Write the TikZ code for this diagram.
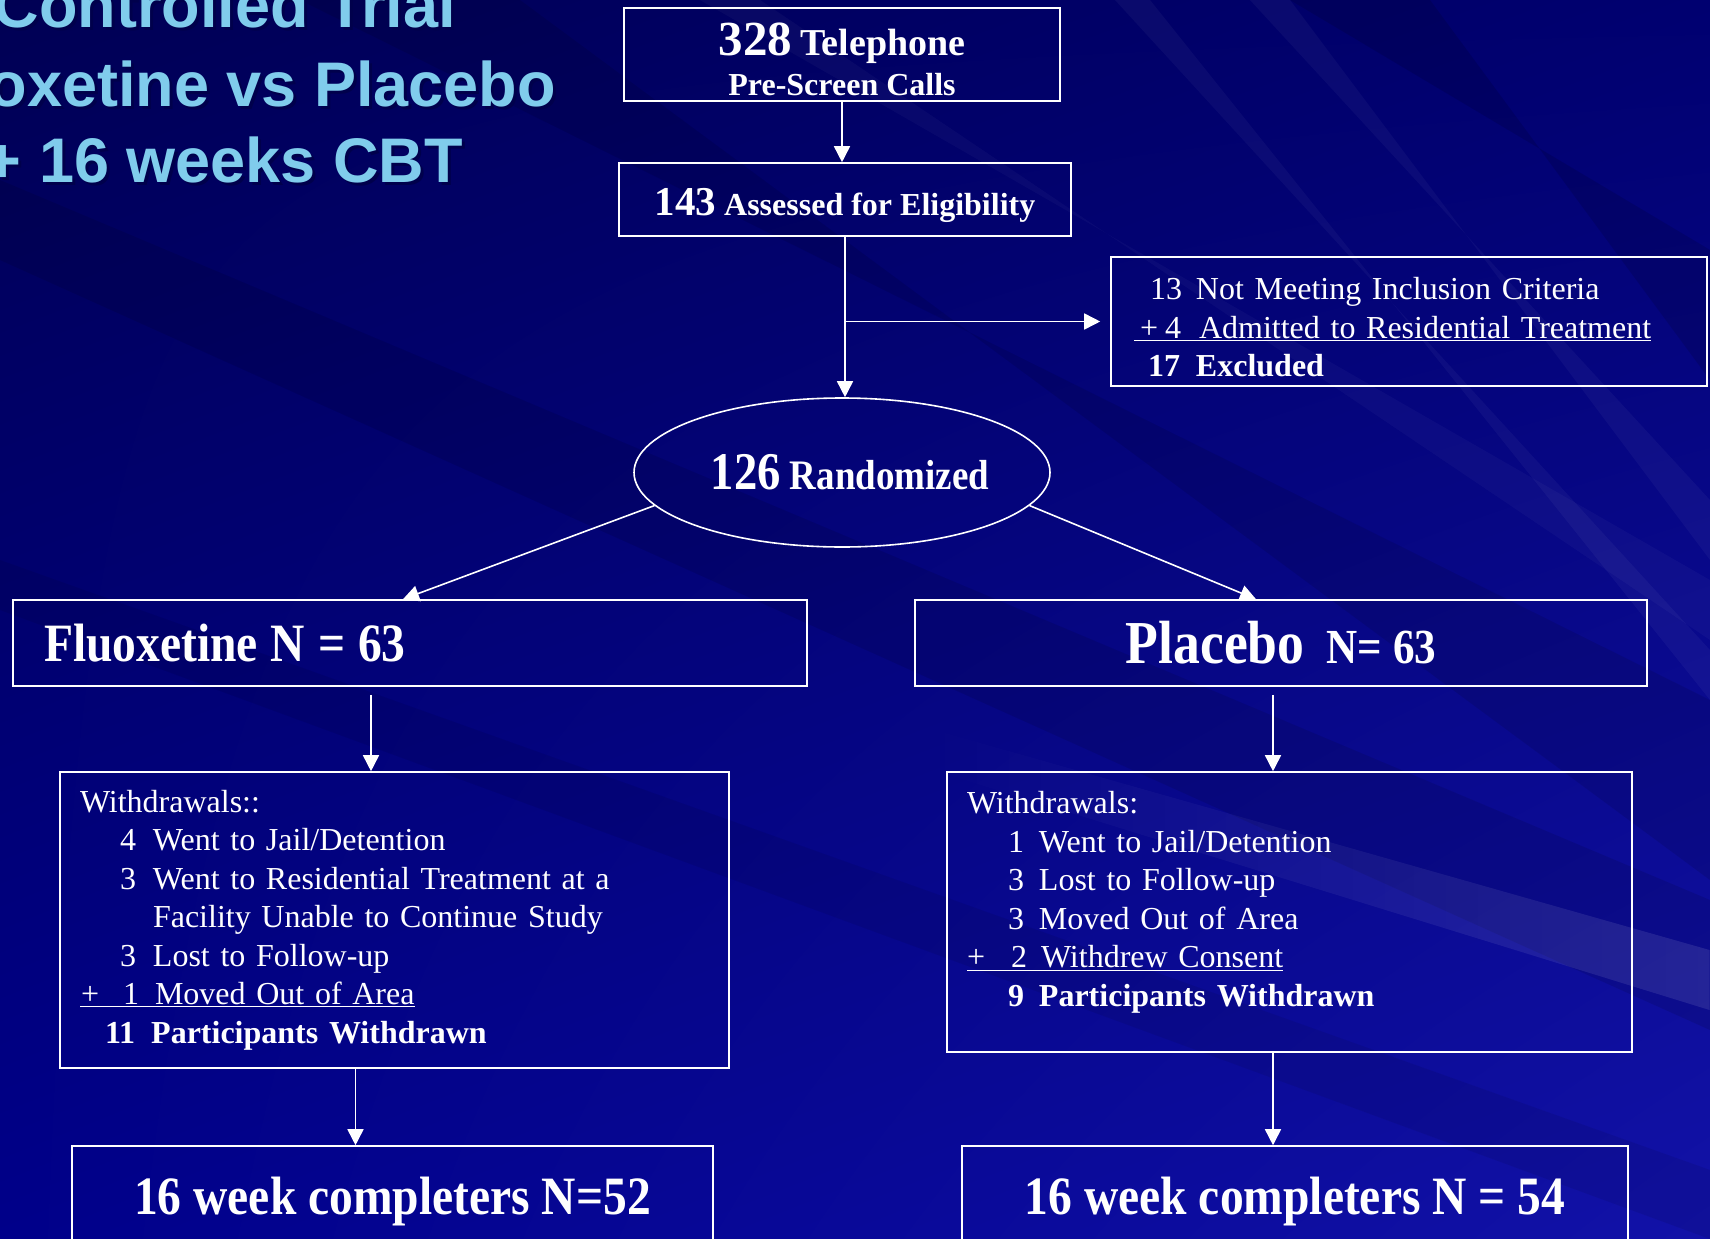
\documentclass[tikz,border=0pt]{standalone}
\usepackage{fontspec}
\setmainfont{Liberation Serif}
\newfontfamily\titlefont{Liberation Sans}
\newfontfamily\headfont[FakeStretch=0.88]{Liberation Serif}
\usetikzlibrary{arrows.meta,shapes.geometric,shadings,fadings}

\definecolor{bgtl}{RGB}{0,0,84}
\definecolor{bgtr}{RGB}{0,0,112}
\definecolor{bgbl}{RGB}{0,0,138}
\definecolor{bgbr}{RGB}{18,18,168}
\definecolor{titleblue}{RGB}{128,204,236}

\begin{document}
\begin{tikzpicture}[x=1pt,y=-1pt,
    >={Triangle[width=16pt,length=16pt]},
    box/.style={draw=white, line width=1.6pt, text=white, inner sep=0pt},
    conn/.style={draw=white, line width=1.6pt},
    title/.style={font=\titlefont\bfseries\fontsize{63}{63}\selectfont, inner sep=0pt},
    list/.style={font=\fontsize{32}{38.5}\selectfont, align=left},
    head/.style={font=\headfont\bfseries\fontsize{54}{54}\selectfont}]
        \useasboundingbox (0,0) rectangle (1710,1239);
        \clip (0,0) rectangle (1710,1239);
        % background and streaks
        \shade[upper left=bgtl, upper right=bgtr, lower left=bgbl, lower right=bgbr] (0,0) rectangle (1710,1239);
        \fill[black, opacity=.10] (0,180) -- (0,260) -- (1710,1030) -- (1710,900) -- cycle;
        \fill[black, opacity=.08] (0,560) -- (0,610) -- (1710,1239) -- (1710,1170) -- cycle;
        \fill[black, opacity=.10] (300,0) -- (520,0) -- (1710,880) -- (1710,700) -- cycle;
        \fill[black, opacity=.12] (1290,0) -- (1430,0) -- (1710,380) -- (1710,250) -- cycle;
        \fill[white, opacity=.04] (1115,0) -- (1150,0) -- (1710,700) -- (1710,650) -- cycle;
        \fill[white, opacity=.04] (1250,0) -- (1290,0) -- (1710,560) -- (1710,500) -- cycle;
        \fill[white, opacity=.10, path fading=west] (900,720) -- (1710,950) -- (1710,1010) -- (900,760) -- cycle;
        \fill[white, opacity=.03] (700,0) -- (760,0) -- (1710,640) -- (1710,580) -- cycle;

        % title, cut by the page
        \foreach \txt/\xe/\yb [count=\i] in {Controlled Trial/456/28, oxetine vs Placebo/556/106, + 16 weeks CBT/463/182}
        {
                \node[title, text=black!70!blue, anchor=base east] (shadow\i) at (\xe+3,\yb+3) {\txt};
                \node[title, text=titleblue, anchor=base east] (title\i) at (\xe,\yb) {\txt};
        };

        % boxes
        \node[box, minimum width=436pt, minimum height=93pt, align=center, font=\bfseries\fontsize{32}{40}\selectfont] (tel) at (842,54.5)
                {\rule{0pt}{42pt}{\fontsize{49}{49}\selectfont 328} {\fontsize{38}{38}\selectfont Telephone}\\Pre-Screen Calls};
        \node[box, minimum width=452pt, minimum height=73pt, font=\bfseries\fontsize{32}{40}\selectfont] (assess) at (845,199.5)
                {\rule{0pt}{40pt}{\fontsize{41}{41}\selectfont 143} Assessed for Eligibility};
        \node[box, list, minimum width=596pt, minimum height=129pt, text width=550pt] (excl) at (1409,321.5)
                {\rule{0pt}{34pt}\hspace*{16pt}13\hspace{14pt}Not Meeting Inclusion Criteria\\
                 \underline{\hspace*{6pt}+\hspace{7pt}4\hspace{18pt}Admitted to Residential Treatment}\\
                 \hspace*{14pt}\textbf{17\hspace{16pt}Excluded}};
        \node[box, ellipse, minimum width=414pt, minimum height=149pt, font=\headfont\bfseries] (rand) at (842,472.5)
                {\hspace*{16pt}{\fontsize{53}{53}\selectfont 126}\hspace{9pt}{\fontsize{42}{42}\selectfont Randomized}};
        \node[box, head, minimum width=794pt, minimum height=86pt, text width=732pt, align=left] (fluox) at (410,643)
                {Fluoxetine\hspace{13pt}N\hspace{13pt}=\hspace{13pt}63};
        \node[box, head, minimum width=732pt, minimum height=86pt] (plac) at (1281,643)
                {{\fontsize{61}{61}\selectfont Placebo}\hspace{22pt}{\fontsize{49}{49}\selectfont N= 63}};
        \node[box, list, minimum width=669pt, minimum height=296pt, text width=629pt] (fluwd) at (394.5,920)
                {Withdrawals::\\
                 \hspace*{40pt}4\hspace{17pt}Went to Jail/Detention\\
                 \hspace*{40pt}3\hspace{17pt}Went to Residential Treatment at a\\
                 \hspace*{73pt}Facility Unable to Continue Study\\
                 \hspace*{40pt}3\hspace{17pt}Lost to Follow-up\\
                 \underline{\hspace*{1pt}+\hspace{24pt}1\hspace{16pt}Moved Out of Area}\\
                 \hspace*{25pt}\textbf{11\hspace{16pt}Participants Withdrawn}};
        \node[box, list, minimum width=685pt, minimum height=280pt, text width=645pt] (plawd) at (1289.5,912)
                {Withdrawals:\\
                 \hspace*{41pt}1\hspace{15pt}Went to Jail/Detention\\
                 \hspace*{41pt}3\hspace{15pt}Lost to Follow-up\\
                 \hspace*{41pt}3\hspace{15pt}Moved Out of Area\\
                 \underline{+\hspace{26pt}2\hspace{14pt}Withdrew Consent}\\
                 \hspace*{41pt}\textbf{9\hspace{15pt}Participants Withdrawn}\rule[-26pt]{0pt}{0pt}};
        \node[box, head, minimum width=641pt, minimum height=114pt] (fluend) at (392.5,1203)
                {16 week completers N=52\rule[-14pt]{0pt}{0pt}};
        \node[box, head, minimum width=666pt, minimum height=114pt] (plaend) at (1295,1203)
                {16 week completers N = 54\rule[-14pt]{0pt}{0pt}};

        % connectors
        \draw[conn,->] (tel.south) -- (tel.south |- assess.north);
        \draw[conn,->] (assess.south) -- (assess.south |- rand.north);
        \draw[conn,->,shorten >=10pt] (assess.south |- excl.west) -- (excl.west);
        \draw[conn,->] (rand.190) -- ([xshift=-7pt]fluox.north);
        \draw[conn,->] (rand.-10) -- ([xshift=-25pt]plac.north);
        \draw[conn,->,shorten <=8pt] ([xshift=-39pt]fluox.south) -- ([xshift=-39pt]fluox.south |- fluwd.north);
        \draw[conn,->] ([xshift=-37pt]fluend.north |- fluwd.south) -- ([xshift=-37pt]fluend.north);
        \draw[conn,->,shorten <=8pt] ([xshift=-8pt]plac.south) -- ([xshift=-8pt]plac.south |- plawd.north);
        \draw[conn,->] ([xshift=-22pt]plaend.north |- plawd.south) -- ([xshift=-22pt]plaend.north);
\end{tikzpicture}
\end{document}
